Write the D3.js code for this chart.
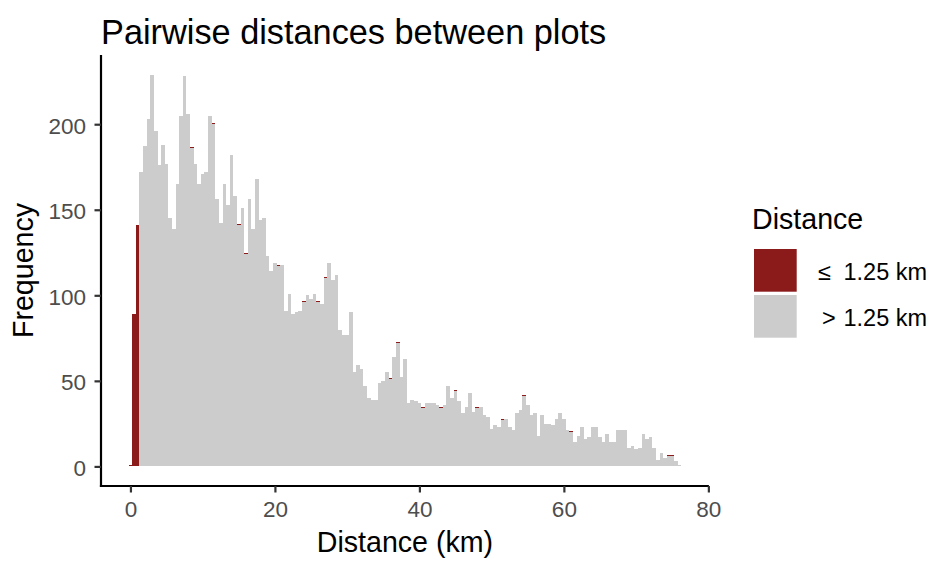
<!DOCTYPE html>
<html>
<head>
<meta charset="utf-8">
<script src="https://cdn.jsdelivr.net/npm/d3@7"></script>
<style>
	body { margin: 0; background: #fff; }
	svg text { font-family: "Liberation Sans", Arial, sans-serif; }
</style>
</head>
<body>
<div id="chart"></div>
<script>
document.addEventListener("DOMContentLoaded", init, false);

// histogram bins: centre of first bin and bin width (km)
var binStart = 0;
var binWidth = 0.5;

// counts of pairs > 1.25 km, one per bin starting at 0 km
var farCounts = [
	0, 0, 0,
	172, 187, 203, 229, 196, 176, 188, 177, 145, 139,
	165, 205, 228, 206, 186, 177, 165, 171, 172, 205,
	200, 156, 142, 165, 153, 182, 158, 141, 151, 124,
	156, 139, 168, 144, 145, 123, 114, 119, 117, 118,
	91, 101, 89, 90, 91, 96, 100, 98, 101, 96,
	95, 110, 119, 109, 112, 80, 77, 77, 90, 55,
	59, 57, 47, 40, 39, 39, 49, 50, 55, 51,
	64, 72, 52, 63, 37, 39, 38, 37, 34, 37,
	37, 37, 36, 34, 36, 47, 40, 44, 38, 31,
	35, 43, 32, 34, 35, 30, 29, 22, 24, 23,
	27, 28, 23, 21, 31, 33, 41, 36, 30, 31,
	18, 30, 25, 25, 24, 28, 31, 28, 21, 20,
	14, 18, 23, 16, 17, 23, 23, 17, 14, 19,
	14, 14, 21, 21, 21, 11, 12, 10, 11, 19,
	16, 17, 11, 4, 8, 5, 6, 6, 3, 1
];

// counts of pairs <= 1.25 km (stacked on top), by bin centre
var nearBins = [0, 0.5, 1, 8.5, 11.5, 15, 16, 20.5, 24, 26, 27, 36, 37, 40.5, 43, 45, 48, 51.5, 54.5, 61, 74.5, 75];
var nearCounts = [1, 89, 141, 0.7, 0.7, 0.7, 0.7, 0.7, 0.7, 0.7, 0.7, 0.7, 0.7, 0.7, 0.7, 0.7, 0.7, 0.7, 0.7, 0.7, 0.7, 0.7];

var xTicks = [0, 20, 40, 60, 80];
var yTicks = [0, 50, 100, 150, 200];

var legendSymbols = ['\u2264', '>'];
var legendText = '1.25 km';
var colours = ['#8B1A1A', '#CCCCCC'];

function init() {
	var width = 933, height = 561;
	var panel = {left: 101, right: 708.9, top: 55, bottom: 486};

	var svg = d3.select('#chart').append('svg')
		.attr('width', width)
		.attr('height', height);

	var bins = farCounts.map(function(f, i) {
		var centre = binStart + i * binWidth;
		var k = nearBins.indexOf(centre);
		return {
			x0: centre - binWidth / 2,
			x1: centre + binWidth / 2,
			far: f,
			near: k < 0 ? 0 : nearCounts[k]
		};
	});

	// ggplot style 5% expansion
	var lo = bins[0].x0, hi = bins[bins.length - 1].x1;
	var xPad = (hi - lo) * 0.05;
	var x = d3.scaleLinear().domain([lo - xPad, hi + xPad]).range([panel.left, panel.right]);

	var yMax = d3.max(bins, function(d) { return d.far + d.near; });
	var y = d3.scaleLinear().domain([-yMax * 0.05, yMax * 1.05]).range([panel.bottom, panel.top]);

	var g = svg.append('g').attr('shape-rendering', 'crispEdges');

	g.selectAll('rect.far').data(bins).enter().append('rect')
		.attr('class', 'far')
		.attr('x', function(d) { return x(d.x0); })
		.attr('width', function(d) { return x(d.x1) - x(d.x0); })
		.attr('y', function(d) { return y(d.far); })
		.attr('height', function(d) { return y(0) - y(d.far); })
		.attr('fill', colours[1]);

	g.selectAll('rect.near').data(bins.filter(function(d) { return d.near > 0; })).enter().append('rect')
		.attr('class', 'near')
		.attr('x', function(d) { return x(d.x0); })
		.attr('width', function(d) { return x(d.x1) - x(d.x0); })
		.attr('y', function(d) { return y(d.far + d.near); })
		.attr('height', function(d) { return y(d.far) - y(d.far + d.near); })
		.attr('fill', colours[0]);

	// axes
	var xAxis = svg.append('g')
		.attr('transform', 'translate(0,' + panel.bottom + ')')
		.call(d3.axisBottom(x).tickValues(xTicks).tickSize(6.5).tickSizeOuter(0).tickFormat(d3.format('d')));
	var yAxis = svg.append('g')
		.attr('transform', 'translate(' + panel.left + ',0)')
		.call(d3.axisLeft(y).tickValues(yTicks).tickSize(6.5).tickSizeOuter(0).tickFormat(d3.format('d')));

	[xAxis, yAxis].forEach(function(a) {
		a.select('.domain').attr('stroke', '#000').attr('stroke-width', 2.2);
		a.selectAll('.tick line').attr('stroke', '#333').attr('stroke-width', 2.2);
		a.selectAll('.tick text')
			.attr('fill', '#4D4D4D')
			.style('font-size', '22.5px');
	});
	xAxis.select('.domain').attr('d', 'M' + (panel.left - 1.1) + ',0H' + panel.right);
	yAxis.select('.domain').attr('d', 'M0,' + panel.top + 'V' + (panel.bottom + 1.1));
	xAxis.selectAll('.tick text').attr('dy', null).attr('y', 31.3);
	yAxis.selectAll('.tick text').attr('dy', null).attr('x', -15).attr('y', 9);

	// titles
	svg.append('text')
		.attr('x', panel.left)
		.attr('y', 43.5)
		.style('font-size', '34.3px')
		.attr('fill', '#000')
		.text('Pairwise distances between plots');

	svg.append('text')
		.attr('x', (panel.left + panel.right) / 2)
		.attr('y', 552)
		.attr('text-anchor', 'middle')
		.style('font-size', '28.6px')
		.text('Distance (km)');

	svg.append('text')
		.attr('transform', 'translate(33,' + ((panel.top + panel.bottom) / 2) + ') rotate(-90)')
		.attr('text-anchor', 'middle')
		.style('font-size', '28.6px')
		.text('Frequency');

	// legend
	var legend = svg.append('g');
	legend.append('text')
		.attr('x', 752)
		.attr('y', 228.5)
		.style('font-size', '28.6px')
		.text('Distance');

	var keys = legend.selectAll('g.key').data(legendSymbols).enter().append('g')
		.attr('class', 'key')
		.attr('transform', function(d, i) { return 'translate(754,' + (249 + i * 46) + ')'; });

	keys.append('rect')
		.attr('width', 42.7)
		.attr('height', 42.7)
		.attr('fill', function(d, i) { return colours[i]; });

	keys.append('text')
		.attr('x', function(d, i) { return i === 0 ? 64 : 68; })
		.attr('y', 31)
		.style('font-size', '23.5px')
		.text(function(d) { return d; });

	keys.append('text')
		.attr('x', 89.5)
		.attr('y', 31)
		.style('font-size', '23.5px')
		.text(legendText);
}
</script>
</body>
</html>
